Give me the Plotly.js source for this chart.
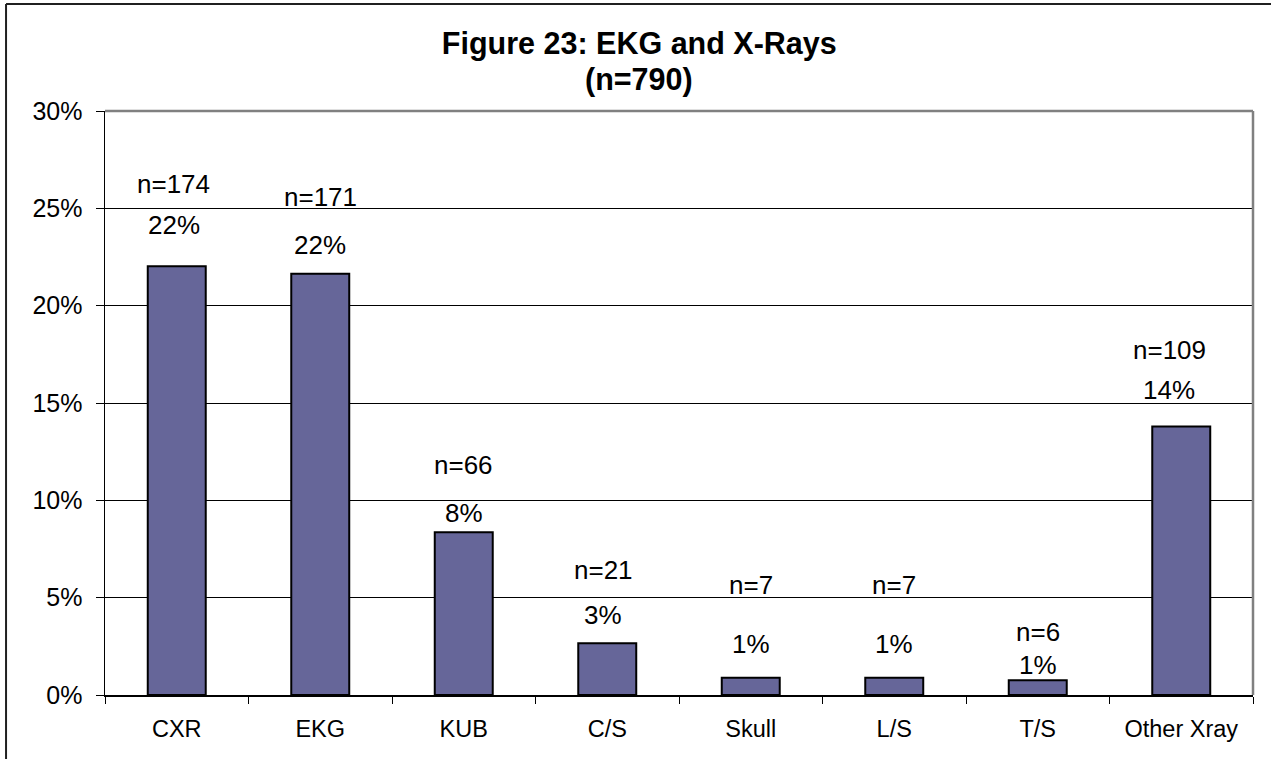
<!DOCTYPE html>
<html>
<head>
<meta charset="utf-8">
<script src="https://cdn.plot.ly/plotly-3.0.1.min.js"></script>
<style>
  html, body { margin: 0; padding: 0; background: #ffffff; }
  #chart { width: 1271px; height: 759px; }
</style>
</head>
<body>
<div id="chart"></div>
<script>
// Procedure counts out of all visits
const categories = ['CXR', 'EKG', 'KUB', 'C/S', 'Skull', 'L/S', 'T/S', 'Other Xray'];
const counts = [174, 171, 66, 21, 7, 7, 6, 109];
const totalVisits = 790;
const titleLines = ['Figure 23: EKG and X-Rays', '(n=' + totalVisits + ')'];
const yTickValues = [0, 0.05, 0.10, 0.15, 0.20, 0.25, 0.30];

const shares = counts.map(c => c / totalVisits);

// Label placement above each bar (pixels): percent label, count label, sideways nudge
const labelLayout = [
  { pct: 41, n: 82, dx: -3 },
  { pct: 29, n: 77, dx: 0 },
  { pct: 19, n: 67, dx: 0 },
  { pct: 28, n: 73, dx: -4 },
  { pct: 34, n: 93, dx: 0 },
  { pct: 34, n: 93, dx: 0 },
  { pct: 15, n: 48, dx: 0 },
  { pct: 36, n: 76, dx: -12 }
];

const FONT = 'Arial, "Liberation Sans", sans-serif';

const trace = {
  type: 'bar',
  x: categories,
  y: shares,
  marker: { color: '#666699', line: { color: '#000000', width: 2 } },
  hoverinfo: 'x+y'
};

const annotations = [];
categories.forEach((cat, i) => {
  const pl = labelLayout[i];
  annotations.push({
    x: cat, y: shares[i], xref: 'x', yref: 'y',
    text: Math.round(shares[i] * 100) + '%',
    showarrow: false, yanchor: 'middle', xanchor: 'center',
    yshift: pl.pct, xshift: pl.dx,
    font: { family: FONT, size: 26, color: '#000000' }
  });
  annotations.push({
    x: cat, y: shares[i], xref: 'x', yref: 'y',
    text: 'n=' + counts[i],
    showarrow: false, yanchor: 'middle', xanchor: 'center',
    yshift: pl.n, xshift: pl.dx,
    font: { family: FONT, size: 26, color: '#000000' }
  });
});

// Second heading line, set closer than the default line spacing
annotations.push({
  xref: 'paper', yref: 'paper', x: 0.465, y: (695 - 79) / 584,
  xanchor: 'center', yanchor: 'middle', showarrow: false,
  text: '<b>' + titleLines[1] + '</b>',
  font: { family: FONT, size: 30.5, color: '#000000' }
});

const layout = {
  width: 1271,
  height: 759,
  margin: { l: 105, r: 18, t: 111, b: 64, pad: 0 },
  paper_bgcolor: '#ffffff',
  plot_bgcolor: '#ffffff',
  showlegend: false,
  bargap: 0.596,
  title: {
    text: '<b>' + titleLines[0] + '</b>',
    x: 0.503, xref: 'container', xanchor: 'center',
    y: 1 - 43.5 / 759, yref: 'container', yanchor: 'middle',
    font: { family: FONT, size: 30.5, color: '#000000' }
  },
  xaxis: {
    type: 'category',
    showline: true, linecolor: '#000000', linewidth: 1.5,
    ticks: 'outside', tickson: 'boundaries', ticklen: 7, tickwidth: 1, tickcolor: '#000000',
    ticklabelstandoff: 12,
    showgrid: false, zeroline: false,
    tickfont: { family: FONT, size: 23.5, color: '#000000' }
  },
  yaxis: {
    range: [0, 0.30],
    tickvals: yTickValues,
    tickformat: '.0%',
    showline: true, linecolor: '#000000', linewidth: 1.5,
    ticks: 'outside', ticklen: 8, tickwidth: 1, tickcolor: '#000000',
    ticklabelstandoff: 8,
    showgrid: true, gridcolor: '#000000', gridwidth: 1,
    zeroline: false,
    tickfont: { family: FONT, size: 25, color: '#000000' }
  },
  shapes: [
    // plot frame, top and right
    { type: 'line', xref: 'paper', yref: 'paper', x0: 0, x1: 1, y0: 1, y1: 1,
      line: { color: '#808080', width: 2.5 } },
    { type: 'line', xref: 'paper', yref: 'paper', x0: 1, x1: 1, y0: 0, y1: 1,
      line: { color: '#808080', width: 2.5 } },
    // outer chart border
    { type: 'line', xref: 'paper', yref: 'paper', x0: -0.0862, x1: 1.2, y0: 1.1832, y1: 1.1832,
      line: { color: '#202020', width: 2 } },
    { type: 'line', xref: 'paper', yref: 'paper', x0: -0.0862, x1: -0.0862, y0: -0.3, y1: 1.1832,
      line: { color: '#202020', width: 2 } }
  ],
  annotations: annotations
};

Plotly.newPlot('chart', [trace], layout, { displayModeBar: false, staticPlot: true });
</script>
</body>
</html>
